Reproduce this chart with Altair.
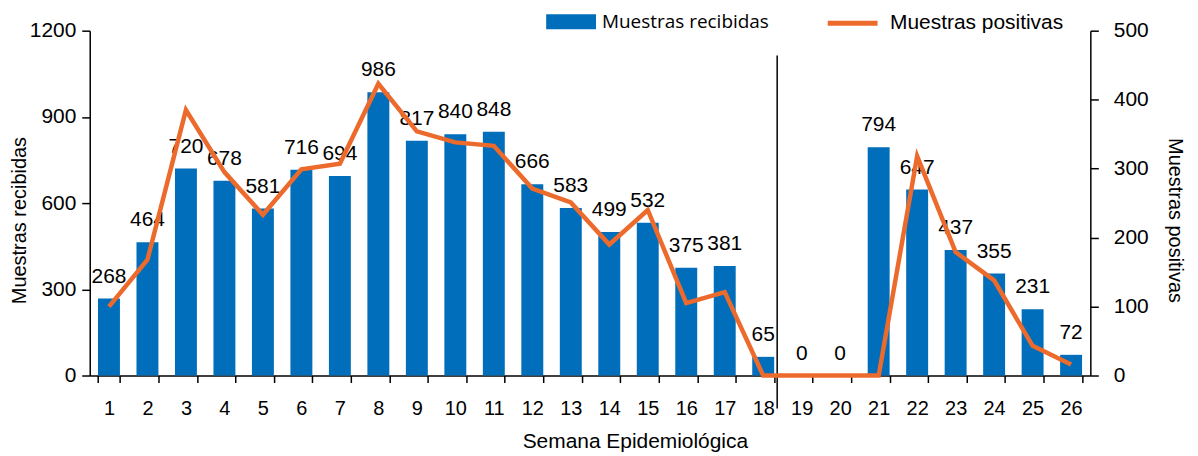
import altair as alt
import pandas as pd

# ---- data ----
semanas = list(range(1, 27))
recibidas = [268, 464, 720, 678, 581, 716, 694, 986, 817, 840, 848, 666, 583,
             499, 532, 375, 381, 65, 0, 0, 794, 647, 437, 355, 231, 72]
positivas = [100, 168, 385, 295, 233, 299, 307, 423, 354, 338, 333, 271, 251,
             190, 240, 105, 121, 0, 0, 0, 0, 318, 179, 138, 43, 16]
serie_barras = "Muestras recibidas"
serie_linea = "Muestras positivas"
semana_corte = [18]
ticks_izq = [0, 300, 600, 900, 1200]
ticks_der = [0, 100, 200, 300, 400, 500]

df = pd.DataFrame({
    "semana": semanas,
    "recibidas": recibidas,
    "positivas": positivas,
    "sb": serie_barras,
    "sl": serie_linea,
})
df_corte = pd.DataFrame({"semana": semana_corte})

BLUE = "#006EBA"
ORANGE = "#EC6A2C"
FONT = "Liberation Sans"

x_scale = alt.Scale(paddingInner=0.43, paddingOuter=0.215)
x_axis = alt.Axis(
    labelAngle=0, tickBand="extent", labelFontSize=20, labelPadding=16,
    tickSize=7, tickWidth=1.5, tickColor="black", domainColor="black",
    domainWidth=1.5, labelColor="black", labelFont=FONT,
    titleFont=FONT, titleFontSize=21, titleFontWeight="normal",
    titleColor="black", titleX=547, titleY=55, titleBaseline="top",
    titleAlign="center",
)
x_enc = alt.X("semana:O", title="Semana Epidemiológica", scale=x_scale, axis=x_axis)

y_left = alt.Y(
    "recibidas:Q", title="Muestras recibidas",
    scale=alt.Scale(domain=[0, 1200]),
    axis=alt.Axis(values=ticks_izq, format="d", labelFontSize=21, labelPadding=6,
                  tickSize=8, tickWidth=1.5, tickColor="black",
                  domainColor="black", domainWidth=1.5, labelColor="black",
                  labelFont=FONT, titleFont=FONT, titleFontSize=20,
                  titleFontWeight="normal", titleColor="black", titleX=-60,
                  titleY=190, grid=False),
)

bars = alt.Chart(df).mark_bar().encode(
    x=x_enc,
    y=y_left,
    fill=alt.Fill(
        "sb:N",
        scale=alt.Scale(domain=[serie_barras], range=[BLUE]),
        legend=alt.Legend(
            title=None, orient="none", legendX=458, legendY=-34, padding=0,
            symbolType="M-1,-0.3L1,-0.3L1,0.3L-1,0.3Z", symbolSize=2500,
            symbolStrokeWidth=0, labelFont="Open Sans", labelFontSize=19,
            labelColor="black", labelOffset=6, labelLimit=0,
        ),
    ),
)

labels = alt.Chart(df).mark_text(
    dy=-16, baseline="alphabetic", fontSize=21, font=FONT, color="black"
).encode(
    x=alt.X("semana:O", scale=x_scale),
    y=alt.Y("recibidas:Q", scale=alt.Scale(domain=[0, 1200])),
    text=alt.Text("recibidas:Q"),
)

corte = alt.Chart(df_corte).mark_rule(color="black", strokeWidth=1.5, xOffset=3).encode(
    x=alt.X("semana:O", scale=x_scale, bandPosition=1),
    y=alt.value(25),
    y2=alt.value(379),
)

line = alt.Chart(df).mark_line(strokeWidth=4.5).encode(
    x=alt.X("semana:O", scale=x_scale),
    y=alt.Y(
        "positivas:Q", title="Muestras positivas",
        scale=alt.Scale(domain=[0, 500]),
        axis=alt.Axis(orient="right", values=ticks_der, format="d",
                      labelFontSize=21, labelPadding=15, tickSize=8,
                      tickWidth=1.5, tickColor="black", domainColor="black",
                      domainWidth=1.5, labelColor="black", labelFont=FONT,
                      titleFont=FONT, titleFontSize=20,
                      titleFontWeight="normal", titleColor="black",
                      titleAngle=90, titleX=74, titleY=190, grid=False),
    ),
    stroke=alt.Stroke(
        "sl:N",
        scale=alt.Scale(domain=[serie_linea], range=[ORANGE]),
        legend=alt.Legend(
            title=None, orient="none", legendX=738, legendY=-35, padding=0,
            symbolType="stroke", symbolSize=2500, symbolStrokeWidth=5,
            labelFont=FONT, labelFontSize=21, labelColor="black",
            labelOffset=10, labelLimit=0,
        ),
    ),
)

left = alt.layer(bars, labels, corte)
chart = alt.layer(left, line).resolve_scale(
    y="independent", fill="independent", stroke="independent"
).properties(
    width=1004, height=346,
    padding={"left": 82, "top": 22, "right": 100, "bottom": 80},
    autosize=alt.AutoSizeParams(type="none"),
).configure_view(stroke=None).configure_axis(grid=False)

chart.save("out.html", embed_options={"renderer": "svg", "actions": False})
